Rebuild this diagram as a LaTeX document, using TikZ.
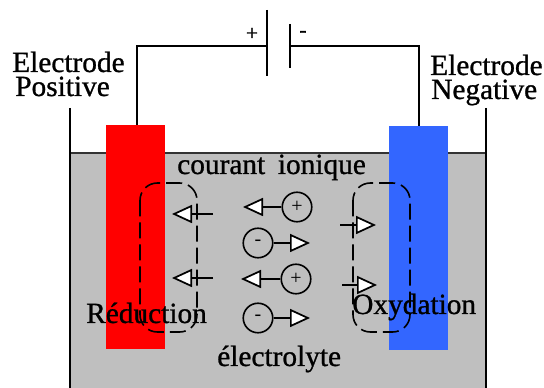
\documentclass[tikz,border=0pt]{standalone}
\usepackage{fontspec}
\setmainfont{Liberation Serif}
\newfontfamily\labelfont[RawFeature={embolden=0.9}]{Liberation Serif}
\usepackage{tikz}
\usetikzlibrary{arrows.meta,calc}
\usetikzlibrary{positioning}
\tikzset{
  label/.style={font=\labelfont\fontsize{22}{24}\selectfont, inner sep=0pt, anchor=base west, text=black},
  sign/.style={font=\labelfont\fontsize{16}{18}\selectfont, inner sep=0pt},
  ion/.style={circle, draw=black, line width=1.2pt, minimum size=29.5pt*0.75, inner sep=0pt, font=\fontsize{15}{15}\selectfont},
  electrode/.style={minimum width=59*0.75pt, minimum height=224*0.75pt, inner sep=0pt},
  migrate/.style={line width=1.3pt, -{Triangle[length=15pt, width=13.5pt, fill=white, line width=1.3pt]}},
  wire/.style={line width=1.2pt},
  zone/.style={dash pattern=on 12pt off 4.5pt, line width=1.2pt, rounded corners=13pt}
}
\begin{document}
\begin{tikzpicture}[x=0.75pt,y=-0.75pt]
                \useasboundingbox (0,0) rectangle (544,388);
                % bain
                \fill[fill=black!25] (70,153) rectangle (486,388);
                \draw[line width=1pt, black!80] (70,153) -- (486,153);
                \draw[line width=1.7pt] (70,108) -- (70,388);
                \draw[line width=1.7pt] (486,108) -- (486,388);
                % electrodes
                \node[electrode, fill=red] (anode) at (135.5,237) {};
                \node[electrode, fill={rgb,255:red,51;green,102;blue,255}] (cathode) at (418.5,238) {};
                % generateur
                \coordinate (plateplus) at (267,46);
                \coordinate (plateminus) at (290,46);
                \draw[wire] (267,10) -- (267,76);
                \draw[wire] (290,24) -- (290,68);
                \draw[wire] ($(anode.north)+(1.5,0)$) |- (plateplus);
                \draw[wire] ($(cathode.north)+(0.5,0)$) |- (plateminus);
                \node[sign] (plus) at (252,34) {+};
                \node[sign] (minus) at (303,34) {-};
                % zones de reaction
                \draw[zone] (140,183) rectangle (197,332);
                \draw[zone] (353,183) rectangle (410,332);
                % ions
                \node[ion] (ionA) at (297,207) {+};
                \node[ion] (ionB) at (258,243) {-};
                \node[ion] (ionC) at (296,279) {+};
                \node[ion] (ionD) at (258,318) {-};
                \coordinate (tipA) at (243,207);
                \coordinate (tipB) at (310,243);
                \coordinate (tipC) at (241,279);
                \coordinate (tipD) at (310,318);
                \draw[migrate] (ionA) -- (tipA);
                \draw[migrate] (ionB) -- (tipB);
                \draw[migrate] (ionC) -- (tipC);
                \draw[migrate] (ionD) -- (tipD);
                % fleches aux electrodes
                \coordinate (tailE) at (213,214);
                \coordinate (tipE) at (172,214);
                \coordinate (tailF) at (213,278);
                \coordinate (tipF) at (172,278);
                \coordinate (tailG) at (340,225);
                \coordinate (tipG) at (376,225);
                \coordinate (tailH) at (342,285);
                \coordinate (tipH) at (377,285);
                \draw[migrate] (tailE) -- (tipE);
                \draw[migrate] (tailF) -- (tipF);
                \draw[migrate] (tailG) -- (tipG);
                \draw[migrate] (tailH) -- (tipH);
                % textes
                \node[label] (elecpos) at (12,72) {Electrode};
                \node[label] (pos) at (15,96) {Positive};
                \node[label] (elecneg) at (430,75) {Electrode};
                \node[label] (neg) at (431,99) {Negative};
                \node[label] (courant) at (177,174) {courant\hspace{4pt} ionique};
                \node[label] (reduc) at (86,323) {Réduction};
                \node[label] (oxyd) at (352,314) {Oxydation};
                \node[label] (electrolyte) at (217,366) {électrolyte};
\end{tikzpicture}
\end{document}
